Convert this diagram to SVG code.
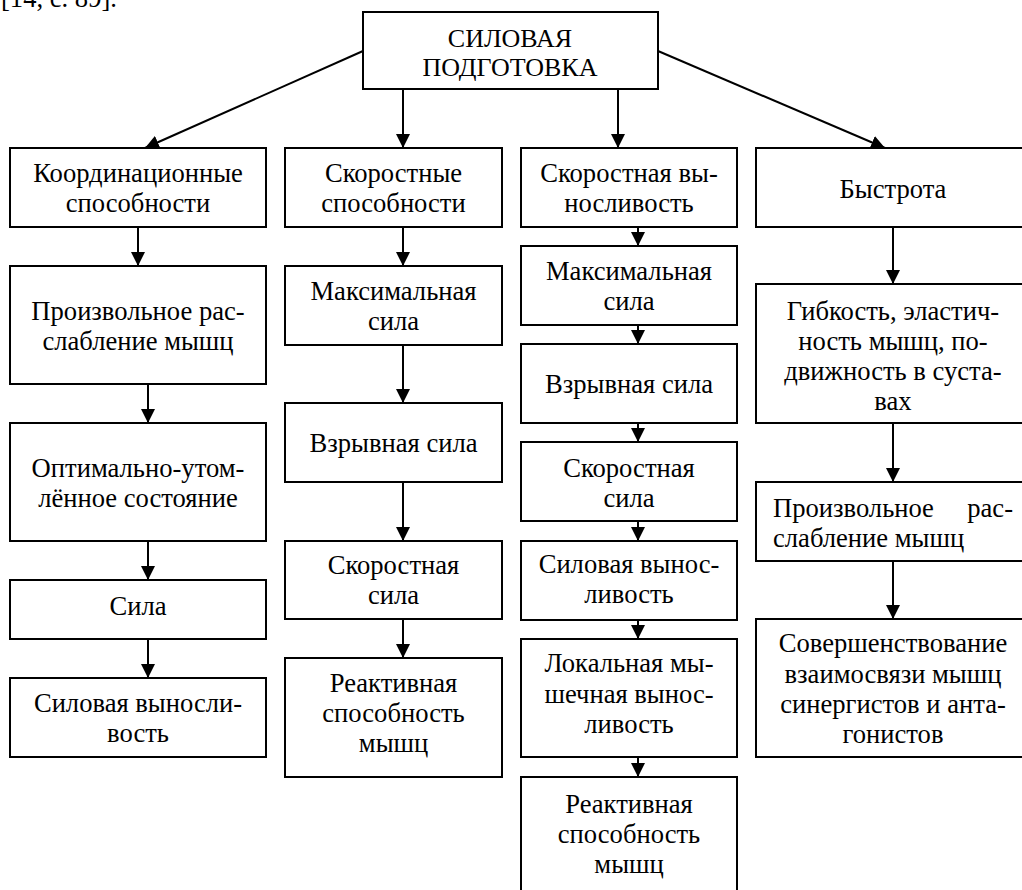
<svg xmlns="http://www.w3.org/2000/svg" width="1022" height="890" viewBox="0 0 1022 890">
<style>
.box{fill:#fff;stroke:#000;stroke-width:2}
.t{font-family:'Liberation Serif','Tinos','Times New Roman','DejaVu Serif',serif;font-size:26.6px;fill:#000;text-anchor:middle}
.r{font-size:26px}
.ts{text-anchor:start}
.te{text-anchor:end}
.c{stroke:#000;stroke-width:2;fill:none;marker-end:url(#ah)}
</style>
<defs>
<marker id="ah" markerUnits="userSpaceOnUse" markerWidth="14" markerHeight="14" refX="14" refY="7" orient="auto" viewBox="0 0 14 14">
<path d="M0,0 L14,7 L0,14 z" fill="#000"/>
</marker>
</defs>
<rect width="1022" height="890" fill="#fff"/>
<g font-family="Liberation Serif, Tinos, Times New Roman, DejaVu Serif, serif">
<text class="t ts" x="1" y="7">[14, с. 89].</text>

<g id="connectors">
<line class="c" x1="363" y1="51" x2="145" y2="148"/>
<line class="c" x1="403" y1="89" x2="403" y2="148"/>
<line class="c" x1="618" y1="89" x2="618" y2="148"/>
<line class="c" x1="658" y1="51" x2="885" y2="148"/>

<line class="c" x1="138" y1="227" x2="138" y2="266"/>
<line class="c" x1="148" y1="384" x2="148" y2="423"/>
<line class="c" x1="148" y1="541" x2="148" y2="580"/>
<line class="c" x1="148" y1="639" x2="148" y2="678"/>

<line class="c" x1="403" y1="227" x2="403" y2="266"/>
<line class="c" x1="403" y1="345" x2="403" y2="403"/>
<line class="c" x1="403" y1="482" x2="403" y2="541"/>
<line class="c" x1="403" y1="619" x2="403" y2="658"/>

<line class="c" x1="638" y1="227" x2="638" y2="246"/>
<line class="c" x1="638" y1="325" x2="638" y2="344"/>
<line class="c" x1="638" y1="423" x2="638" y2="442"/>
<line class="c" x1="638" y1="521" x2="638" y2="541"/>
<line class="c" x1="638" y1="620" x2="638" y2="639"/>
<line class="c" x1="638" y1="757" x2="638" y2="777"/>

<line class="c" x1="893" y1="227" x2="893" y2="284"/>
<line class="c" x1="893" y1="423" x2="893" y2="482"/>
<line class="c" x1="893" y1="561" x2="893" y2="619"/>
</g>

<g id="root">
<rect class="box" x="363" y="12" width="295" height="77"/>
<text class="t r" x="510" y="47">СИЛОВАЯ</text>
<text class="t r" x="510" y="76">ПОДГОТОВКА</text>
</g>

<g id="c1n1"><rect class="box" x="10" y="148" width="256" height="79"/>
<text class="t" x="138" y="182">Координационные</text><text class="t" x="138" y="212">способности</text></g>
<g id="c1n2"><rect class="box" x="10" y="266" width="256" height="118"/>
<text class="t" x="138" y="320">Произвольное рас-</text><text class="t" x="138" y="350">слабление мышц</text></g>
<g id="c1n3"><rect class="box" x="10" y="423" width="256" height="118"/>
<text class="t" x="138" y="477">Оптимально-утом-</text><text class="t" x="138" y="507">лённое состояние</text></g>
<g id="c1n4"><rect class="box" x="10" y="580" width="256" height="59"/>
<text class="t" x="138" y="615">Сила</text></g>
<g id="c1n5"><rect class="box" x="10" y="678" width="256" height="79"/>
<text class="t" x="138" y="712">Силовая выносли-</text><text class="t" x="138" y="742">вость</text></g>

<g id="c2n1"><rect class="box" x="285" y="148" width="217" height="79"/>
<text class="t" x="393.5" y="182">Скоростные</text><text class="t" x="393.5" y="212">способности</text></g>
<g id="c2n2"><rect class="box" x="285" y="266" width="217" height="79"/>
<text class="t" x="393.5" y="300">Максимальная</text><text class="t" x="393.5" y="330">сила</text></g>
<g id="c2n3"><rect class="box" x="285" y="403" width="217" height="79"/>
<text class="t" x="393.5" y="452">Взрывная сила</text></g>
<g id="c2n4"><rect class="box" x="285" y="541" width="217" height="78"/>
<text class="t" x="393.5" y="574">Скоростная</text><text class="t" x="393.5" y="604">сила</text></g>
<g id="c2n5"><rect class="box" x="285" y="658" width="217" height="119"/>
<text class="t" x="393.5" y="692">Реактивная</text><text class="t" x="393.5" y="722">способность</text><text class="t" x="393.5" y="752">мышц</text></g>

<g id="c3n1"><rect class="box" x="521" y="148" width="216" height="79"/>
<text class="t" x="629" y="182">Скоростная вы-</text><text class="t" x="629" y="212">носливость</text></g>
<g id="c3n2"><rect class="box" x="521" y="246" width="216" height="79"/>
<text class="t" x="629" y="280">Максимальная</text><text class="t" x="629" y="310">сила</text></g>
<g id="c3n3"><rect class="box" x="521" y="344" width="216" height="79"/>
<text class="t" x="629" y="393">Взрывная сила</text></g>
<g id="c3n4"><rect class="box" x="521" y="442" width="216" height="79"/>
<text class="t" x="629" y="477">Скоростная</text><text class="t" x="629" y="507">сила</text></g>
<g id="c3n5"><rect class="box" x="521" y="541" width="216" height="79"/>
<text class="t" x="629" y="573">Силовая вынос-</text><text class="t" x="629" y="603">ливость</text></g>
<g id="c3n6"><rect class="box" x="521" y="639" width="216" height="118"/>
<text class="t" x="629" y="672">Локальная мы-</text><text class="t" x="629" y="703">шечная вынос-</text><text class="t" x="629" y="733">ливость</text></g>
<g id="c3n7"><rect class="box" x="521" y="777" width="216" height="130"/>
<text class="t" x="629" y="813">Реактивная</text><text class="t" x="629" y="843">способность</text><text class="t" x="629" y="873">мышц</text></g>

<g id="c4n1"><rect class="box" x="756" y="148" width="274" height="79"/>
<text class="t" x="893" y="198">Быстрота</text></g>
<g id="c4n2"><rect class="box" x="756" y="284" width="274" height="139"/>
<text class="t" x="893" y="320">Гибкость, эластич-</text><text class="t" x="893" y="350">ность мышц, по-</text><text class="t" x="893" y="380">движность в суста-</text><text class="t" x="893" y="410">вах</text></g>
<g id="c4n3"><rect class="box" x="756" y="482" width="274" height="79"/>
<text class="t ts" x="773" y="517">Произвольное</text><text class="t te" x="1013" y="517">рас-</text><text class="t ts" x="773" y="547">слабление мышц</text></g>
<g id="c4n4"><rect class="box" x="756" y="619" width="274" height="138"/>
<text class="t" x="893" y="652">Совершенствование</text><text class="t" x="893" y="683">взаимосвязи мышц</text><text class="t" x="893" y="713">синергистов и анта-</text><text class="t" x="893" y="743">гонистов</text></g>
</g>
</svg>
